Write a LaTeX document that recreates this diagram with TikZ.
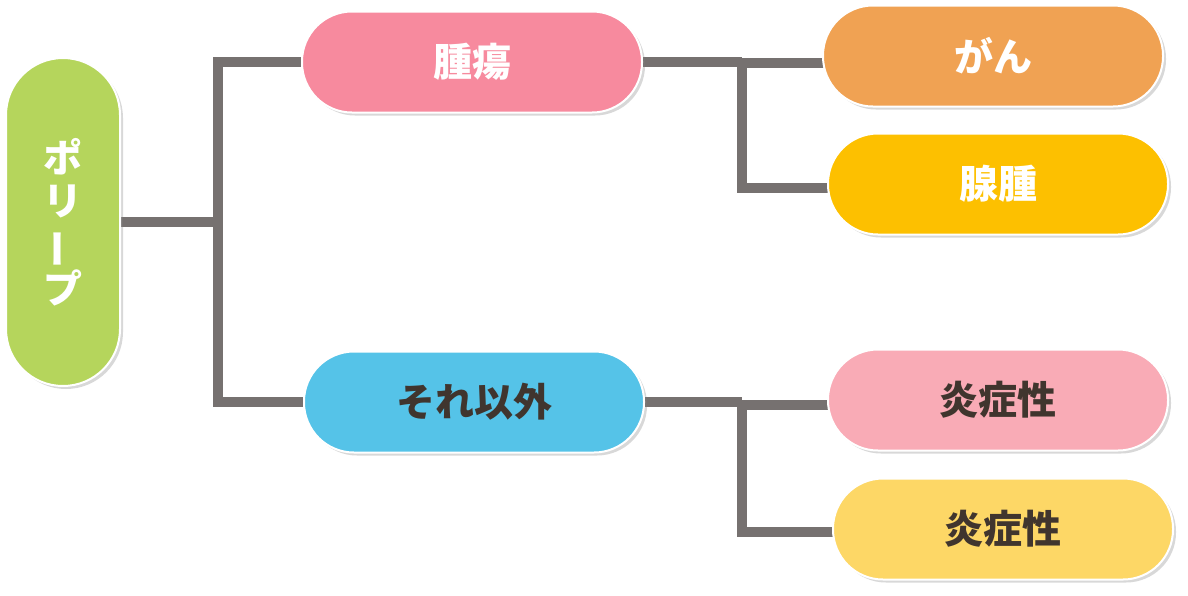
\documentclass[tikz,border=0pt]{standalone}
\usepackage{fontspec}
\newfontfamily\jp{Noto Sans CJK JP}
\usetikzlibrary{shadows,backgrounds}
\definecolor{cgreen}{HTML}{B5D55C}
\definecolor{cpink}{HTML}{F78A9E}
\definecolor{cblue}{HTML}{55C3E8}
\definecolor{corange}{HTML}{F0A253}
\definecolor{cyellow}{HTML}{FDC000}
\definecolor{cpinkb}{HTML}{F9ABB6}
\definecolor{cyellowb}{HTML}{FDD766}
\definecolor{cline}{HTML}{767170}
\definecolor{cdark}{HTML}{40352E}
\tikzset{
  pill/.style={rectangle, rounded corners=50pt, minimum width=340pt, minimum height=101pt,
    draw=white, line width=2pt, inner sep=0pt,
    font=\jp\bfseries\fontsize{39}{43}\selectfont,
    drop shadow={opacity=0.3, shadow xshift=3pt, shadow yshift=-3pt}},
  conn/.style={draw=cline, line width=10pt, line join=miter}
}
\begin{document}
\begin{tikzpicture}[x=1pt,y=-1pt]
\useasboundingbox (0,0) rectangle (1188,595);
\node[pill, fill=cgreen, text=white, minimum width=114pt, minimum height=328pt,
      rounded corners=57pt, align=center] (polyp) at (63,222)
      {ポ\\リ\\\rotatebox[origin=c]{90}{ー}\\プ};
\node[pill, fill=cpink, text=white] (tumor) at (472,62) {腫瘍};
\node[pill, fill=cblue, text=cdark] (other) at (474,402) {それ以外};
\node[pill, fill=corange, text=white] (gan) at (993,56) {がん};
\node[pill, fill=cyellow, text=white] (aden) at (998,184) {腺腫};
\node[pill, fill=cpinkb, text=cdark] (infa) at (998,400) {炎症性};
\node[pill, fill=cyellowb, text=cdark] (infb) at (1003,529) {炎症性};
\begin{scope}[on background layer]
\fill[white] (0,0) rectangle (1188,595);
\coordinate (j1) at (218,222);
\coordinate (j2) at (742,63);
\coordinate (j3) at (742,404);
\draw[conn] (polyp) -- (j1);
\draw[conn] (tumor) -| (j1) |- (other);
\draw[conn] (tumor) -- (tumor -| j2);
\draw[conn] ([yshift=-7pt]gan.center) -| (j2);
\draw[conn] ([yshift=-4pt]aden.center) -| (j2);
\draw[conn] (other) -- (other -| j3);
\draw[conn] ([yshift=-5pt]infa.center) -| (j3);
\draw[conn] ([yshift=-3pt]infb.center) -| (j3);
\end{scope}
\end{tikzpicture}
\end{document}
